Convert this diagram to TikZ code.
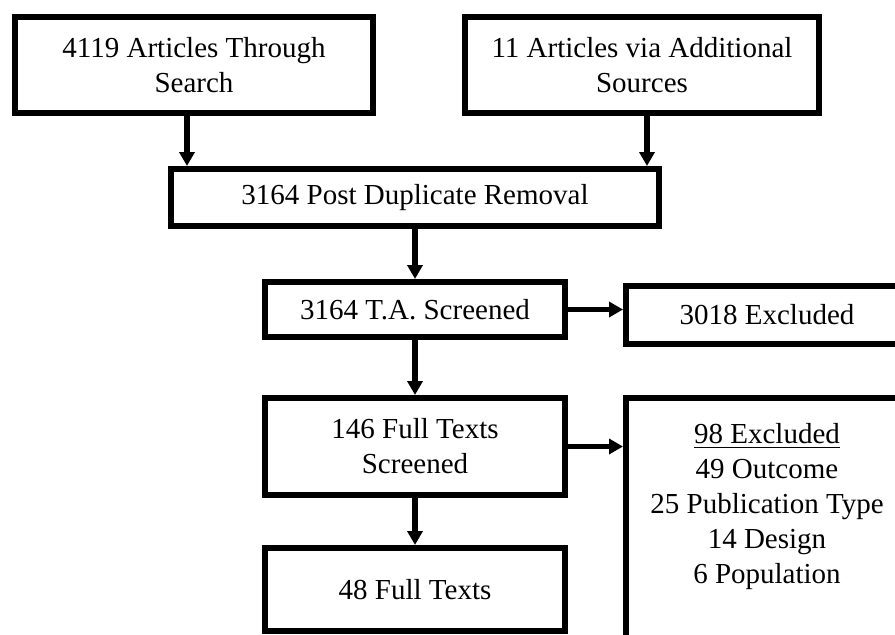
\documentclass[tikz,border=0pt]{standalone}
\usepackage{fontspec}
\setmainfont{Liberation Serif}
\usetikzlibrary{arrows.meta, positioning}

\tikzset{
  box/.style={draw, line width=3pt, rectangle, align=center, inner sep=2pt,
    font=\fontsize{14.5}{17.5}\selectfont},
  flow/.style={-{Triangle[length=7pt,width=7.5pt]}, line width=2.8pt},
}

\begin{document}
\begin{tikzpicture}[x=0.5pt, y=-0.5pt]
  \path[use as bounding box] (0,0) rectangle (895,634);
  \clip (0,0) rectangle (895,634);

  \node[box, minimum width=179pt, minimum height=48pt] (search) at (194,65)
    {4119 Articles Through\\Search};
  \node[box, minimum width=177pt, minimum height=48pt] (extra) at (642,65)
    {11 Articles via Additional\\Sources};
  \node[box, minimum width=244pt, minimum height=28.5pt] (dedup) at (415,197.5)
    {3164 Post Duplicate Removal};
  \node[box, minimum width=150pt, minimum height=27.5pt] (tascreen) at (415,309.5)
    {3164 T.A. Screened};
  \node[box, minimum width=141pt, minimum height=29pt] (taexcl) at (767,315)
    {3018 Excluded};
  \node[box, minimum width=150pt, minimum height=48.5pt] (fulltext) at (415,446.5)
    {146 Full Texts\\Screened};
  \node[box, minimum width=141pt, minimum height=151pt] (ftexcl) at (767,549) {};
  \node[font=\fontsize{14.5}{17.5}\selectfont, align=center] (ftreasons) at (767,507)
    {\underline{98 Excluded}\\49 Outcome\\25 Publication Type\\14 Design\\6 Population};
  \node[box, minimum width=150pt, minimum height=41.5pt] (included) at (415,589.5)
    {48 Full Texts};

  % connectors
  \draw[flow] ([xshift=-3.5pt]search.south) -- ([xshift=-3.5pt]search.south |- dedup.north);
  \draw[flow] ([xshift=2.5pt]extra.south) -- ([xshift=2.5pt]extra.south |- dedup.north);
  \draw[flow] (dedup) -- (tascreen);
  \draw[flow] (tascreen.east) -- (tascreen.east -| taexcl.west);
  \draw[flow] (tascreen) -- (fulltext);
  \draw[flow] (fulltext.east) -- (fulltext.east -| ftexcl.west);
  \draw[flow] (fulltext) -- (included);
\end{tikzpicture}
\end{document}
